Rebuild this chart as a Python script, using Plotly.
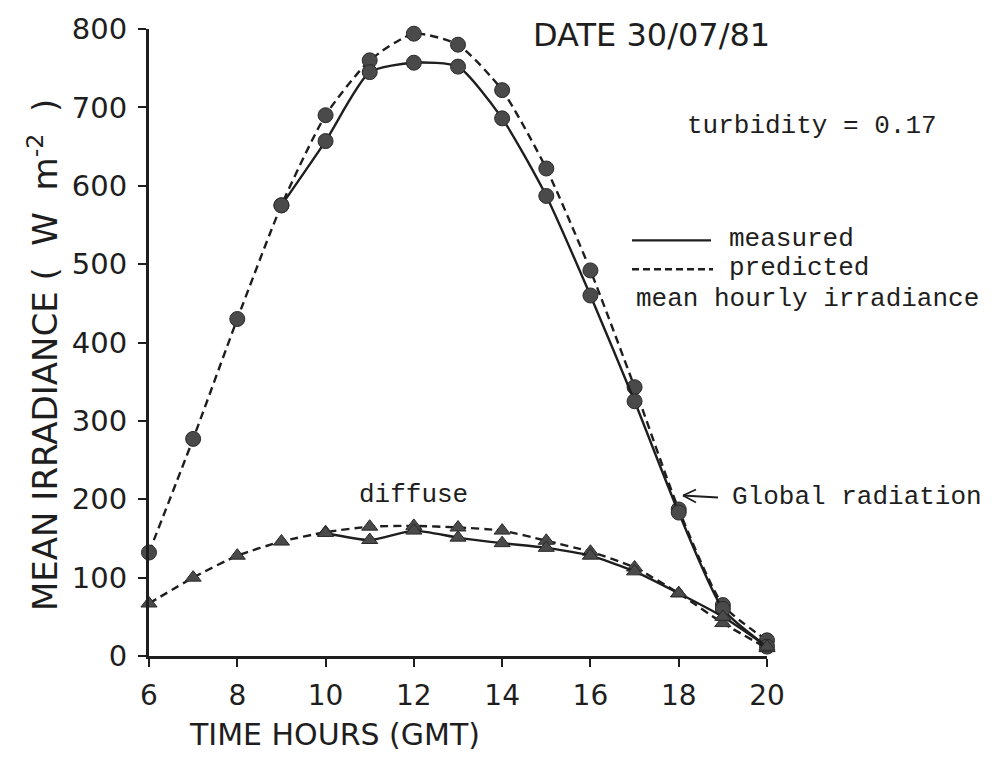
import plotly.graph_objects as go

# ---------------- data ----------------
hours = [6, 7, 8, 9, 10, 11, 12, 13, 14, 15, 16, 17, 18, 19, 20]
global_predicted = [132, 277, 430, 575, 690, 760, 794, 780, 722, 622, 492, 343, 187, 65, 20]

hours_global_measured = [9, 10, 11, 12, 13, 14, 15, 16, 17, 18, 19, 20]
global_measured = [575, 657, 745, 757, 752, 686, 587, 460, 325, 183, 60, 12]

diffuse_predicted = [67, 100, 128, 146, 158, 165, 166, 164, 160, 147, 133, 113, 80, 42, 10]

hours_diffuse_measured = [10, 11, 12, 13, 14, 15, 16, 17, 18, 19, 20]
diffuse_measured = [157, 148, 160, 151, 144, 138, 128, 108, 80, 50, 12]

x_ticks = [6, 8, 10, 12, 14, 16, 18, 20]
y_ticks = [0, 100, 200, 300, 400, 500, 600, 700, 800]

# ---------------- layout helpers ----------------
W, H = 992, 758
L, R, T, B = 149, 767, 27, 656   # plot-area pixel box


def px(xpix):
    return (xpix - L) / (R - L)


def py(ypix):
    return (B - ypix) / (B - T)


INK = "#1e1e1e"
MARK = "#4a4a4a"
SANS = "DejaVu Sans"
MONO = "Liberation Mono"
DASH = "8px,5px"

fig = go.Figure()


def add_series(x, y, dash, symbol, size):
    fig.add_trace(go.Scatter(
        x=x, y=y, mode="lines+markers",
        line=dict(color=INK, width=2.4, dash=dash, shape="spline", smoothing=0.6),
        marker=dict(symbol=symbol, size=size, color=MARK,
                    line=dict(color="#2a2a2a", width=1)),
        cliponaxis=False, showlegend=False, hoverinfo="x+y",
    ))


add_series(hours, global_predicted, DASH, "circle", 15)
add_series(hours_global_measured, global_measured, "solid", "circle", 15)
add_series(hours, diffuse_predicted, DASH, "triangle-up", 14)
add_series(hours_diffuse_measured, diffuse_measured, "solid", "triangle-up", 14)

fig.update_xaxes(
    range=[6, 20], tickvals=x_ticks, ticktext=[str(v) for v in x_ticks],
    showgrid=False, zeroline=False, showline=True, linecolor=INK, linewidth=3,
    ticks="outside", ticklen=8, tickwidth=2, tickcolor=INK,
    tickfont=dict(family=SANS, size=28, color=INK), ticklabelstandoff=4,
)
fig.update_yaxes(
    range=[0, 800], tickvals=y_ticks, ticktext=[str(v) for v in y_ticks],
    showgrid=False, zeroline=False, showline=True, linecolor=INK, linewidth=3,
    ticks="outside", ticklen=8, tickwidth=2, tickcolor=INK,
    tickfont=dict(family=SANS, size=29, color=INK), ticklabelstandoff=5,
)

annotations = [
    dict(text="MEAN IRRADIANCE (  W  m<sup>-2</sup>  )", x=px(43), y=py(354),
         textangle=-90, font=dict(family=SANS, size=34, color=INK)),
    dict(text="TIME HOURS (GMT)", x=px(334), y=py(735),
         font=dict(family=SANS, size=30, color=INK)),
    dict(text="DATE 30/07/81", x=px(651), y=py(33),
         font=dict(family=SANS, size=32, color=INK)),
    dict(text="turbidity = 0.17", x=px(685), y=py(124), xanchor="left",
         font=dict(family=MONO, size=26, color=INK)),
    dict(text="measured", x=px(727), y=py(238), xanchor="left",
         font=dict(family=MONO, size=26, color=INK)),
    dict(text="predicted", x=px(727), y=py(267), xanchor="left",
         font=dict(family=MONO, size=26, color=INK)),
    dict(text="mean hourly irradiance", x=px(634), y=py(298), xanchor="left",
         font=dict(family=MONO, size=26, color=INK)),
    dict(text="diffuse", x=px(413), y=py(494),
         font=dict(family=MONO, size=26, color=INK)),
    dict(text="Global radiation", x=px(730), y=py(496), xanchor="left",
         font=dict(family=MONO, size=26, color=INK)),
]
for a in annotations:
    a.setdefault("xref", "paper")
    a.setdefault("yref", "paper")
    a.setdefault("showarrow", False)
    a.setdefault("xanchor", "center")
    a.setdefault("yanchor", "middle")

shapes = [
    # legend samples
    dict(type="line", x0=px(632), x1=px(711), y0=py(239), y1=py(239),
         line=dict(color=INK, width=2.4)),
    dict(type="line", x0=px(632), x1=px(713), y0=py(268), y1=py(268),
         line=dict(color=INK, width=2.4, dash="7px,4px")),
    # arrow for "Global radiation"
    dict(type="line", x0=px(718), x1=px(683), y0=py(497), y1=py(495),
         line=dict(color=INK, width=1.8)),
    dict(type="line", x0=px(683), x1=px(696), y0=py(495), y1=py(489),
         line=dict(color=INK, width=1.8)),
    dict(type="line", x0=px(683), x1=px(696), y0=py(495), y1=py(502),
         line=dict(color=INK, width=1.8)),
]
for s in shapes:
    s["xref"] = "paper"
    s["yref"] = "paper"

fig.update_layout(
    width=W, height=H,
    margin=dict(l=L, r=W - R, t=T, b=H - B, pad=0),
    paper_bgcolor="white", plot_bgcolor="white",
    annotations=annotations, shapes=shapes,
    showlegend=False,
)

fig.write_html("out.html")
